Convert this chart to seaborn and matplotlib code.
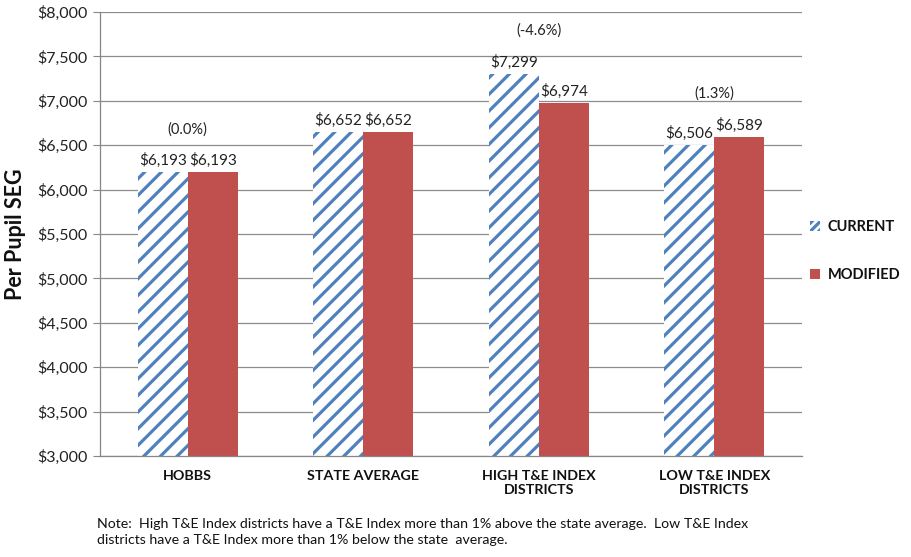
import matplotlib
matplotlib.use("Agg")
import matplotlib.pyplot as plt
import matplotlib.patches as mpatches
import seaborn as sns
import pandas as pd
from matplotlib.ticker import FuncFormatter

categories = ["HOBBS", "STATE AVERAGE", "HIGH T&E INDEX\nDISTRICTS", "LOW T&E INDEX\nDISTRICTS"]
current = [6193, 6652, 7299, 6506]
modified = [6193, 6652, 6974, 6589]
pct_labels = ["(0.0%)", "", "(-4.6%)", "(1.3%)"]
series = ["CURRENT", "MODIFIED"]
note = ("Note:  High T&E Index districts have a T&E Index more than 1% above the state average.  Low T&E Index\n"
        "districts have a T&E Index more than 1% below the state  average.")

df = pd.DataFrame({
    "category": categories * 2,
    "series": [series[0]] * 4 + [series[1]] * 4,
    "value": current + modified,
})

sns.set_theme(style="white")
plt.rcParams["font.family"] = ["Lato", "DejaVu Sans"]
plt.rcParams["hatch.linewidth"] = 2.3

blue = "#4F81BD"
red = "#C0504D"

fig = plt.figure(figsize=(9.12, 5.57), dpi=100)
ax = fig.add_axes([100/912, 1 - 456/557, 702/912, 444/557])

sns.barplot(data=df, x="category", y="value", hue="series", palette=[blue, red],
            width=0.57, ax=ax, legend=False, saturation=1)

cur_bars = ax.containers[0]
mod_bars = ax.containers[1]
for p in cur_bars:
    p.set_facecolor("white")
    p.set_edgecolor(blue)
    p.set_hatch("//")
    p.set_linewidth(0)
for p in mod_bars:
    p.set_linewidth(0)

for cont in ax.containers:
    for p in cont:
        h = p.get_height()
        ax.annotate(f"${h:,.0f}", (p.get_x() + p.get_width() / 2, h),
                    xytext=(0, 3), textcoords="offset points",
                    ha="center", va="bottom", fontsize=11, color="#222222")

for i, lab in enumerate(pct_labels):
    if lab:
        top = max(current[i], modified[i])
        ax.annotate(lab, (i, top), xytext=(0, 26), textcoords="offset points",
                    ha="center", va="bottom", fontsize=10.5, color="#222222")

ax.set_ylim(3000, 8000)
ax.set_yticks(range(3000, 8001, 500))
ax.yaxis.set_major_formatter(FuncFormatter(lambda v, _: f"${v:,.0f}"))
ax.tick_params(axis="y", labelsize=11.5, length=5, width=0.8, color="#868686",
               direction="out", left=True, pad=4, labelcolor="#222222")
ax.tick_params(axis="x", labelsize=10.3, length=0, pad=10)
for lbl in ax.get_xticklabels():
    lbl.set_fontweight("bold")
    lbl.set_color("#111111")

ax.grid(axis="y", color="#8c8c8c", linewidth=0.9)
ax.set_axisbelow(True)
for s in ["top", "right"]:
    ax.spines[s].set_visible(False)
for s in ["left", "bottom"]:
    ax.spines[s].set_color("#868686")
    ax.spines[s].set_linewidth(0.9)

ax.set_xlabel("")
ax.set_ylabel("Per Pupil SEG", fontsize=15.5, fontweight="bold", labelpad=8, color="#111111")

h1 = mpatches.Patch(facecolor="white", edgecolor=blue, hatch="////", linewidth=0, label=series[0])
h2 = mpatches.Patch(facecolor=red, edgecolor=red, linewidth=0, label=series[1])
leg = fig.legend(handles=[h1, h2], loc="center left", bbox_to_anchor=(800/912, 1 - 251/557),
                 frameon=False, handlelength=0.7, handleheight=0.7, handletextpad=0.5,
                 labelspacing=2.3, fontsize=10.5, borderpad=0.2)
for t in leg.get_texts():
    t.set_fontweight("bold")
    t.set_color("#111111")

fig.text(97/912, 1 - 532/557, note, fontsize=10.2, color="#111111", va="center", ha="left",
         linespacing=1.3)

fig.savefig("out.png", dpi=100)
